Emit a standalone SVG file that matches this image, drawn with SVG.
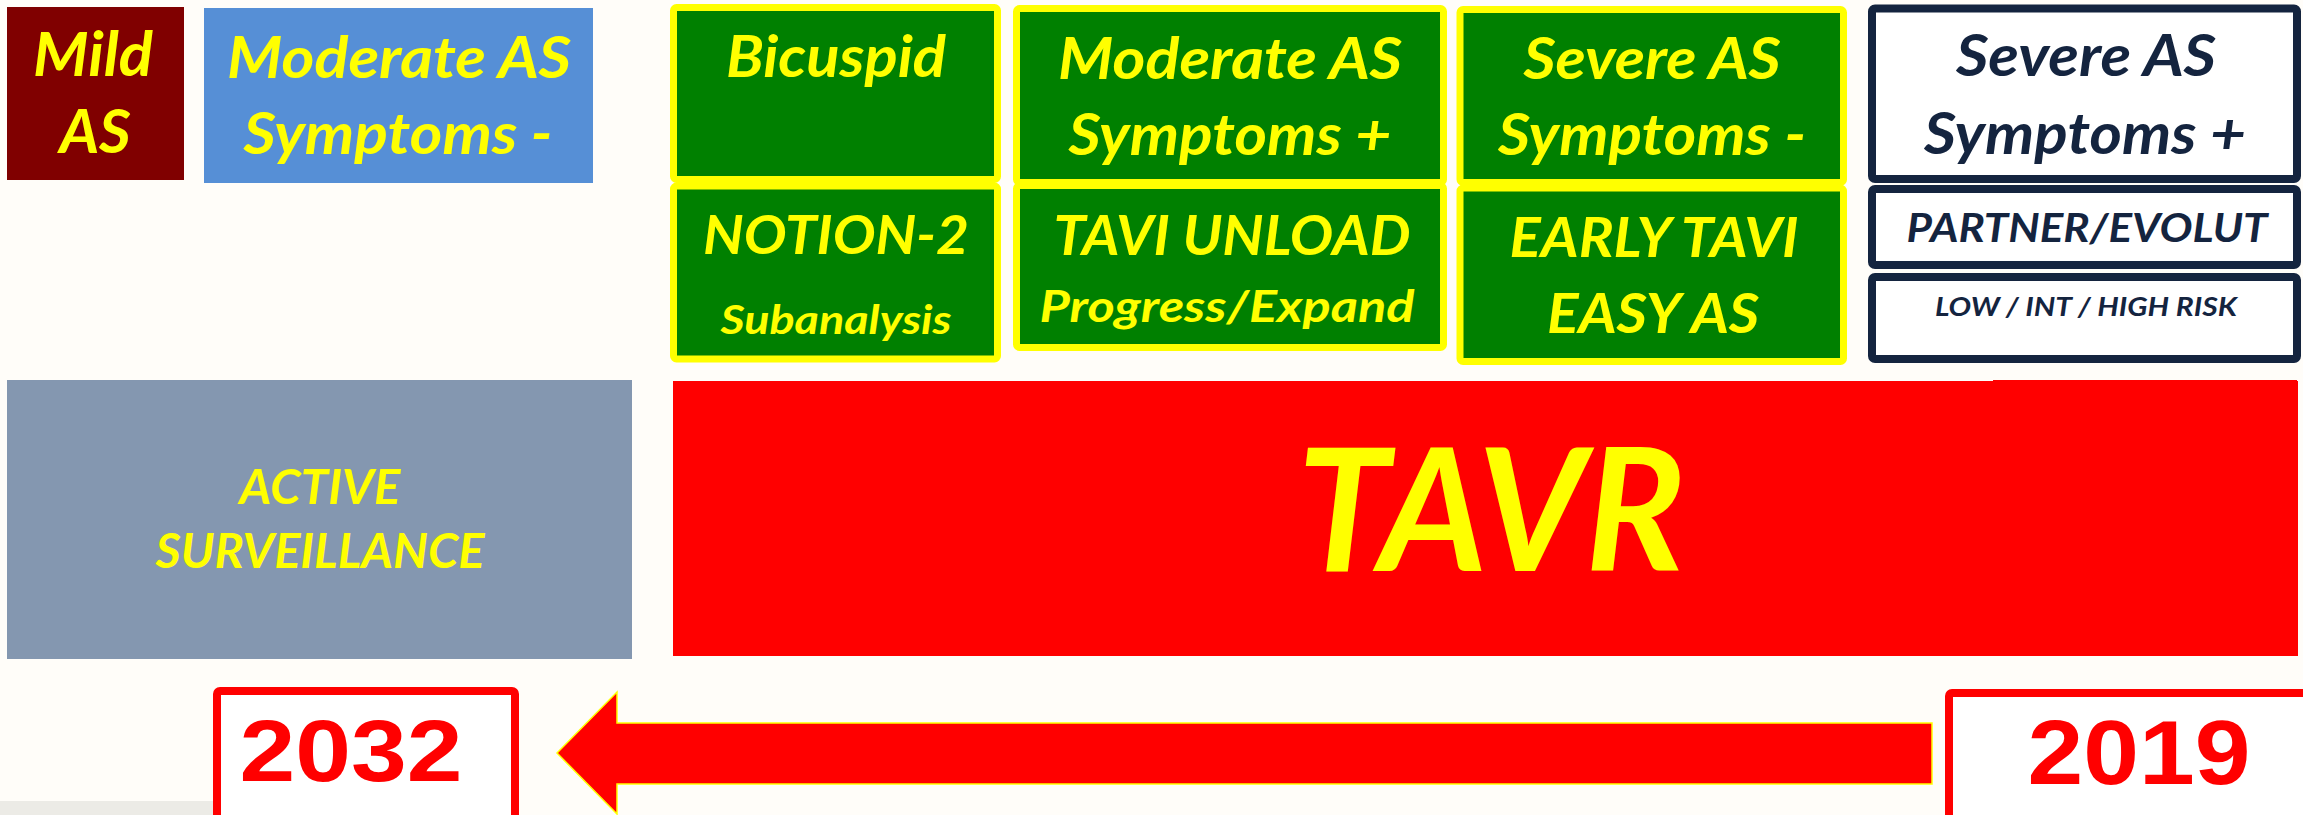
<svg xmlns="http://www.w3.org/2000/svg" width="2303" height="815" viewBox="0 0 2303 815">
<style>
.t{font-family:Lato,"Open Sans","Liberation Sans",sans-serif;font-weight:bold;font-style:italic;text-anchor:middle}
.y{fill:#FFFF00}
.n{fill:#14243F}
.g{fill:#008000;stroke:#FFFF00;stroke-width:7}
.w{fill:#FFFFFF;stroke:#14243F;stroke-width:8}
.yr{font-family:"Liberation Sans",Arial,sans-serif;font-weight:bold;fill:#FF0000;text-anchor:middle}
.yb{fill:#FFFFFF;stroke:#FF0000;stroke-width:8}
</style>
<rect x="0" y="0" width="2303" height="815" fill="#FFFDF9"/>
<rect x="0" y="801" width="213" height="14" fill="#ECEBE6"/>

<g id="mild-as">
<rect x="7" y="7" width="177" height="173" fill="#800000"/>
<text class="t y" x="93" y="76" font-size="61" textLength="120" lengthAdjust="spacingAndGlyphs">Mild</text>
<text class="t y" x="95" y="153" font-size="61" textLength="71" lengthAdjust="spacingAndGlyphs">AS</text>
</g>

<g id="moderate-as-symptoms-minus">
<rect x="204" y="8" width="389" height="175" fill="#568FD6"/>
<text class="t y" x="399" y="78" font-size="57" textLength="344" lengthAdjust="spacingAndGlyphs">Moderate AS</text>
<text class="t y" x="398" y="154" font-size="57" textLength="309" lengthAdjust="spacingAndGlyphs">Symptoms -</text>
</g>

<g id="bicuspid">
<rect class="g" x="673.5" y="7.5" width="324" height="172" rx="3"/>
<text class="t y" x="836" y="77" font-size="58" textLength="220" lengthAdjust="spacingAndGlyphs">Bicuspid</text>
</g>
<g id="notion-2">
<rect class="g" x="673.5" y="186" width="324" height="173" rx="3"/>
<text class="t y" x="836" y="254" font-size="54" textLength="266" lengthAdjust="spacingAndGlyphs">NOTION-2</text>
<text class="t y" x="836" y="334" font-size="40" textLength="231" lengthAdjust="spacingAndGlyphs">Subanalysis</text>
</g>

<g id="moderate-as-symptoms-plus">
<rect class="g" x="1016.5" y="8.5" width="427" height="174" rx="3"/>
<text class="t y" x="1230" y="79" font-size="58" textLength="344" lengthAdjust="spacingAndGlyphs">Moderate AS</text>
<text class="t y" x="1230" y="155" font-size="58" textLength="323" lengthAdjust="spacingAndGlyphs">Symptoms +</text>
</g>
<g id="tavi-unload">
<rect class="g" x="1016.5" y="185.5" width="427" height="162" rx="3"/>
<text class="t y" x="1232" y="255" font-size="55" textLength="357" lengthAdjust="spacingAndGlyphs">TAVI UNLOAD</text>
<text class="t y" x="1227" y="322" font-size="44" textLength="375" lengthAdjust="spacingAndGlyphs">Progress/Expand</text>
</g>

<g id="severe-as-symptoms-minus">
<rect class="g" x="1460" y="9.5" width="383.5" height="173" rx="3"/>
<text class="t y" x="1652" y="79" font-size="58" textLength="257" lengthAdjust="spacingAndGlyphs">Severe AS</text>
<text class="t y" x="1652" y="155" font-size="58" textLength="308" lengthAdjust="spacingAndGlyphs">Symptoms -</text>
</g>
<g id="early-tavi">
<rect class="g" x="1460" y="188" width="383.5" height="173.5" rx="3"/>
<text class="t y" x="1654" y="257" font-size="55" textLength="289" lengthAdjust="spacingAndGlyphs">EARLY TAVI</text>
<text class="t y" x="1653" y="333" font-size="55" textLength="212" lengthAdjust="spacingAndGlyphs">EASY AS</text>
</g>

<g id="severe-as-symptoms-plus">
<rect class="w" x="1872" y="8.5" width="425" height="170.5" rx="3"/>
<text class="t n" x="2086" y="76" font-size="58" textLength="260" lengthAdjust="spacingAndGlyphs">Severe AS</text>
<text class="t n" x="2085" y="154" font-size="58" textLength="322" lengthAdjust="spacingAndGlyphs">Symptoms +</text>
</g>
<g id="partner-evolut">
<rect class="w" x="1872" y="189" width="425" height="76" rx="3"/>
<text class="t n" x="2087" y="242" font-size="40" textLength="361" lengthAdjust="spacingAndGlyphs">PARTNER/EVOLUT</text>
</g>
<g id="risk">
<rect class="w" x="1872" y="277" width="425" height="82" rx="3"/>
<text class="t n" x="2086" y="316" font-size="27" textLength="302" lengthAdjust="spacingAndGlyphs">LOW / INT / HIGH RISK</text>
</g>

<g id="active-surveillance">
<rect x="7" y="380" width="625" height="279" fill="#8497B0"/>
<text class="t y" x="320" y="504" font-size="47" textLength="161" lengthAdjust="spacingAndGlyphs">ACTIVE</text>
<text class="t y" x="320" y="568" font-size="47" textLength="329" lengthAdjust="spacingAndGlyphs">SURVEILLANCE</text>
</g>

<g id="tavr">
<rect x="673" y="381" width="1625" height="275" fill="#FF0000"/>
<rect x="1993" y="380" width="304" height="2" fill="#FF0000"/>
<text class="t y" x="1491" y="571" font-size="170" textLength="388" lengthAdjust="spacingAndGlyphs">TAVR</text>
</g>

<g id="year-2032">
<rect class="yb" x="217" y="691" width="298" height="130" rx="3"/>
<text class="yr" x="351" y="781" font-size="88" textLength="223" lengthAdjust="spacingAndGlyphs">2032</text>
</g>

<g id="year-2019">
<rect class="yb" x="1949" y="693" width="360" height="130" rx="3"/>
<text class="yr" x="2139" y="784" font-size="91" textLength="223" lengthAdjust="spacingAndGlyphs">2019</text>
</g>

<g id="connectors">
<polygon points="557,753 617,692 617,723 1932,723 1932,784 617,784 617,814" fill="#FF0000" stroke="#FFFF00" stroke-width="1.5"/>
</g>
</svg>
